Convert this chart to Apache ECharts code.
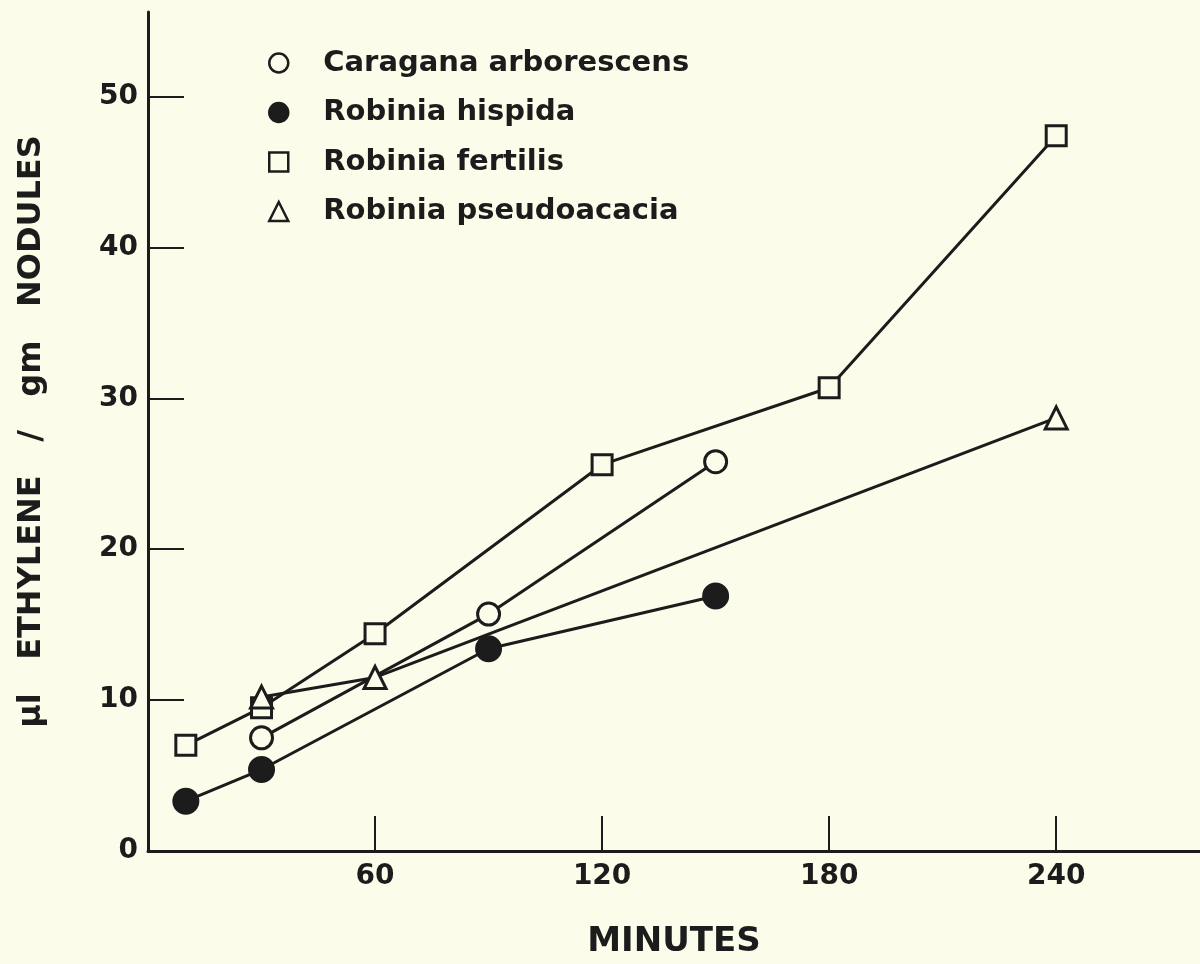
<!DOCTYPE html>
<html>
<head>
<meta charset="utf-8">
<title>Ethylene per gm nodules</title>
<script src="https://cdn.jsdelivr.net/npm/echarts@6/dist/echarts.min.js"></script>
<style>
  html, body { margin: 0; padding: 0; background: #fcfcea; }
  #main { width: 1200px; height: 964px; }
</style>
</head>
<body>
<div id="main"></div>
<script>
// data (minutes, ul ethylene / gm nodules)
var caraganaMin = [30, 90, 150];
var caraganaVal = [7.5, 15.7, 25.8];

var hispidaMin = [10, 30, 90, 150];
var hispidaVal = [3.3, 5.4, 13.4, 16.9];

var fertilisMin = [10, 30, 60, 120, 180, 240];
var fertilisVal = [7.0, 9.5, 14.4, 25.6, 30.7, 47.4];

var pseudoMin = [30, 60, 240];
var pseudoVal = [10.2, 11.5, 28.7];

var xTicks = [60, 120, 180, 240];
var yTicks = [0, 10, 20, 30, 40, 50];

var bg = '#fcfcea';
var ink = '#1c1c1c';
var font = 'DejaVu Sans';

function pairs(xs, ys) {
  var out = [];
  for (var i = 0; i < xs.length; i++) out.push([xs[i], ys[i]]);
  return out;
}

function line(name, xs, ys, symbol, size, fill) {
  return {
    name: name,
    type: 'line',
    data: pairs(xs, ys),
    symbol: symbol,
    symbolSize: size,
    showAllSymbol: true,
    lineStyle: { color: ink, width: 3 },
    itemStyle: { color: fill, borderColor: ink, borderWidth: 3 },
    z: 3
  };
}

var myChart = echarts.init(document.getElementById('main'));

var option = {
  backgroundColor: bg,
  animation: false,
  grid: { left: 148, top: 12, right: 0, bottom: 112 },
  legend: {
    orient: 'vertical',
    left: 263,
    top: 43,
    itemWidth: 19,
    itemHeight: 19,
    itemGap: 19.5,
    itemStyle: { borderWidth: 2.5, borderColor: ink },
    textStyle: {
      fontFamily: font, fontWeight: 'bold', fontSize: 29, color: ink,
      lineHeight: 30, padding: [0, 0, 0, 30]
    },
    data: [
      { name: 'Caragana arborescens', icon: 'circle' },
      { name: 'Robinia hispida', icon: 'circle' },
      { name: 'Robinia fertilis', icon: 'rect' },
      { name: 'Robinia pseudoacacia', icon: 'triangle' }
    ]
  },
  xAxis: {
    type: 'value',
    min: 0,
    max: 278,
    interval: 60,
    name: 'MINUTES',
    nameLocation: 'middle',
    nameGap: 74,
    nameTextStyle: { fontFamily: font, fontWeight: 'bold', fontSize: 34, color: ink },
    axisLine: { lineStyle: { color: ink, width: 3 } },
    axisTick: { inside: true, length: 35, lineStyle: { color: ink, width: 2 } },
    axisLabel: {
      margin: 12,
      showMaxLabel: false,
      fontFamily: font, fontWeight: 'bold', fontSize: 28, color: ink,
      formatter: function (v) { return xTicks.indexOf(v) >= 0 ? String(v) : ''; }
    },
    splitLine: { show: false }
  },
  yAxis: {
    type: 'value',
    min: 0,
    max: 55.6,
    interval: 10,
    name: 'μl   ETHYLENE   /   gm   NODULES',
    nameLocation: 'middle',
    nameRotate: 90,
    nameGap: 100,
    nameTextStyle: { fontFamily: font, fontWeight: 'bold', fontSize: 32, color: ink },
    axisLine: { show: true, lineStyle: { color: ink, width: 3 } },
    axisTick: { show: true, inside: true, length: 36, lineStyle: { color: ink, width: 2 } },
    axisLabel: {
      margin: 10,
      showMaxLabel: false,
      fontFamily: font, fontWeight: 'bold', fontSize: 28, color: ink,
      formatter: function (v) { return yTicks.indexOf(v) >= 0 ? String(v) : ''; }
    },
    splitLine: { show: false }
  },
  series: [
    line('Caragana arborescens', caraganaMin, caraganaVal, 'circle', 22, bg),
    line('Robinia hispida', hispidaMin, hispidaVal, 'circle', 24, ink),
    line('Robinia fertilis', fertilisMin, fertilisVal, 'rect', 20, bg),
    line('Robinia pseudoacacia', pseudoMin, pseudoVal, 'triangle', 22, bg)
  ]
};

myChart.setOption(option);
</script>
</body>
</html>
